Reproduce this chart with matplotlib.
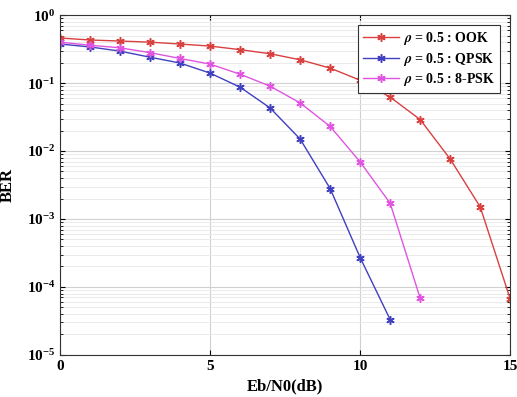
import numpy as np
import matplotlib
matplotlib.use('Agg')
import matplotlib.pyplot as plt

# data
snr_ook = [0, 1, 2, 3, 4, 5, 6, 7, 8, 9, 10, 11, 12, 13, 14, 15]
ber_ook = [0.46, 0.43, 0.415, 0.40, 0.375, 0.35, 0.31, 0.27, 0.22, 0.166,
           0.11, 0.062, 0.029, 0.0076, 0.0015, 6.6e-5]

snr_qpsk = [0, 1, 2, 3, 4, 5, 6, 7, 8, 9, 10, 11]
ber_qpsk = [0.375, 0.34, 0.295, 0.24, 0.197, 0.14, 0.087, 0.043, 0.015,
            0.0028, 2.7e-4, 3.3e-5]

snr_8psk = [0, 1, 2, 3, 4, 5, 6, 7, 8, 9, 10, 11, 12]
ber_8psk = [0.40, 0.36, 0.33, 0.28, 0.23, 0.19, 0.135, 0.09, 0.051, 0.023,
            0.0069, 0.0017, 6.8e-5]

labels = [r'$\rho$ = 0.5 : OOK', r'$\rho$ = 0.5 : QPSK', r'$\rho$ = 0.5 : 8-PSK']

plt.rcParams['font.family'] = 'Liberation Serif'
plt.rcParams['font.weight'] = 'bold'
plt.rcParams['mathtext.fontset'] = 'stix'

fig = plt.figure(figsize=(5.17, 3.97), dpi=100)
ax = fig.add_axes([0.116, 0.106, 0.871, 0.856])

asterisk = (6, 2, 0)
ax.semilogy(snr_ook, ber_ook, '-', marker=asterisk, color='#d94040', lw=1, ms=6, mew=1.1, label=labels[0])
ax.semilogy(snr_qpsk, ber_qpsk, '-', marker=asterisk, color='#4040c0', lw=1, ms=6, mew=1.1, label=labels[1])
ax.semilogy(snr_8psk, ber_8psk, '-', marker=asterisk, color='#e055e0', lw=1, ms=6, mew=1.1, label=labels[2])

ax.set_xlim(0, 15)
ax.set_ylim(1e-5, 1)
ax.set_xticks([0, 5, 10, 15])
ax.grid(True, which='major', color='#d0d0d0', lw=0.8)
ax.grid(True, which='minor', color='#e8e8e8', lw=0.6)
ax.tick_params(which='both', direction='in', top=True, right=True, labelsize=11)
for s in ax.spines.values():
    s.set_color('#333333')
    s.set_linewidth(0.8)

ax.set_xlabel('Eb/N0(dB)', fontsize=12, fontweight='bold')
ax.set_ylabel('BER', fontsize=12, fontweight='bold', labelpad=8)

leg = ax.legend(loc='upper right', fontsize=10, fancybox=False, edgecolor='#333333',
                framealpha=1, handlelength=2.6, handletextpad=0.3, borderpad=0.35,
                labelspacing=0.25, bbox_to_anchor=(0.993, 0.99))
leg.get_frame().set_linewidth(0.8)

plt.savefig('out.png', dpi=100)
